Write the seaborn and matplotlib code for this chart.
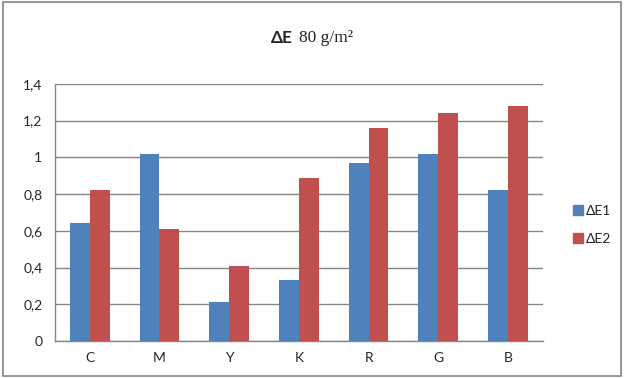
import matplotlib
matplotlib.use("Agg")
import matplotlib.pyplot as plt
import seaborn as sns
import pandas as pd
from matplotlib.patches import Rectangle
from matplotlib.lines import Line2D

categories = ["C", "M", "Y", "K", "R", "G", "B"]
de1 = [0.64, 1.02, 0.21, 0.33, 0.97, 1.02, 0.82]
de2 = [0.82, 0.61, 0.41, 0.89, 1.16, 1.24, 1.28]
series_names = ["ΔE1", "ΔE2"]
y_ticks = [0, 0.2, 0.4, 0.6, 0.8, 1.0, 1.2, 1.4]
y_tick_labels = ["0", "0,2", "0,4", "0,6", "0,8", "1", "1,2", "1,4"]
colors = ["#4F81BD", "#C0504D"]

df = pd.DataFrame({
    "cat": categories * 2,
    "value": de1 + de2,
    "series": [series_names[0]] * len(categories) + [series_names[1]] * len(categories),
})

sns.set_style("white")
plt.rcParams["font.family"] = ["Lato", "DejaVu Sans"]

fig = plt.figure(figsize=(6.24, 3.78), dpi=100)
ax = fig.add_axes([0.088, 0.098, 0.782, 0.680])

sns.barplot(data=df, x="cat", y="value", hue="series", palette=colors,
            width=0.57, gap=0, saturation=1, ax=ax, legend=False, zorder=3,
            linewidth=0)

ax.set_ylim(0, 1.4)
ax.set_xlim(-0.5, len(categories) - 0.5)
ax.set_yticks(y_ticks)
ax.set_yticklabels(y_tick_labels, fontsize=10)
ax.set_xticks(range(len(categories)))
ax.set_xticklabels(categories, fontsize=10)
ax.set_xticks([i - 0.5 for i in range(len(categories) + 1)], minor=True)
ax.tick_params(axis="x", which="major", length=0, pad=8)
ax.tick_params(axis="x", which="minor", length=5, color="#868686", width=1, direction="out")
ax.tick_params(axis="y", length=5, color="#868686", width=1, direction="out", pad=4)
ax.set_xlabel("")
ax.set_ylabel("")
ax.yaxis.grid(True, color="#868686", linewidth=1, zorder=0)
ax.set_axisbelow(True)
for s in ["top", "right"]:
    ax.spines[s].set_visible(False)
for s in ["left", "bottom"]:
    ax.spines[s].set_color("#868686")
    ax.spines[s].set_linewidth(1)

# title: bold sans "ΔE" + serif "80 g/m²"
fig.text(0.469, 0.899, "ΔE", fontsize=12.5, fontweight="bold", ha="right", va="center",
         family=["Lato", "DejaVu Sans"])
fig.text(0.479, 0.899, "80 g/m²", fontsize=12.5, ha="left", va="center",
         family=["Liberation Serif", "DejaVu Serif"])

handles = [Line2D([0], [0], marker="s", linestyle="", markersize=7,
                  markerfacecolor=c, markeredgecolor=c) for c in colors]
fig.legend(handles, series_names, loc="center left", bbox_to_anchor=(0.895, 0.405),
           frameon=False, fontsize=10, handletextpad=0.1, labelspacing=1.2,
           handlelength=1.0)

fig.patches.append(Rectangle((0.005, 0.005), 0.99, 0.99, transform=fig.transFigure,
                             fill=False, edgecolor="#868686", linewidth=1.2))

fig.savefig("out.png", dpi=100)
